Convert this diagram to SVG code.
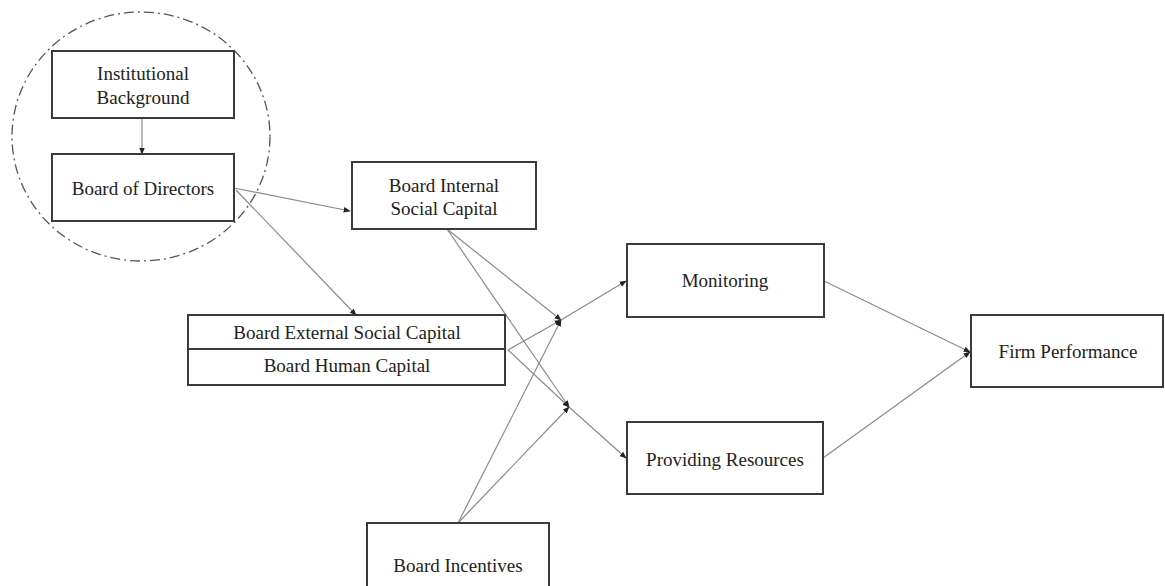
<svg xmlns="http://www.w3.org/2000/svg" width="1165" height="586" viewBox="0 0 1165 586">
<defs>
<style>
.box{fill:#fff;stroke:#3a3a3a;stroke-width:2}
.t{font-family:"Liberation Serif","Times New Roman",serif;font-size:19px;fill:#222;text-anchor:middle}
.c{fill:none;stroke:#8a8a8a;stroke-width:1.2;marker-end:url(#ah)}
</style>
<marker id="ah" viewBox="0 0 10 10" refX="9" refY="5" markerWidth="7" markerHeight="7" markerUnits="userSpaceOnUse" orient="auto">
<path d="M0,1 L10,5 L0,9 Z" fill="#222"/>
</marker>
</defs>
<rect width="1165" height="586" fill="#fff"/>
<ellipse cx="141" cy="136.5" rx="129" ry="124.5" fill="none" stroke="#555" stroke-width="1.3" stroke-dasharray="10 4 2 4"/>
<g id="connectors">
<line class="c" x1="142" y1="118" x2="142" y2="154"/>
<line class="c" x1="234" y1="188" x2="350" y2="211"/>
<line class="c" x1="236" y1="190" x2="356" y2="315"/>
<line class="c" x1="447" y1="229" x2="561" y2="320"/>
<line class="c" x1="508" y1="350" x2="561" y2="320"/>
<line class="c" x1="458" y1="523" x2="561" y2="320"/>
<line class="c" x1="561" y1="320" x2="626" y2="281"/>
<line class="c" x1="447" y1="229" x2="569" y2="407"/>
<line class="c" x1="508" y1="350" x2="569" y2="407"/>
<line class="c" x1="458" y1="523" x2="569" y2="407"/>
<line class="c" x1="569" y1="407" x2="626" y2="458"/>
<line class="c" x1="824" y1="281" x2="970" y2="352"/>
<line class="c" x1="823" y1="458" x2="970" y2="352"/>
</g>
<g id="institutional-background">
<rect class="box" x="52" y="51" width="182" height="67"/>
<text class="t" x="143" y="80">Institutional</text>
<text class="t" x="143" y="104">Background</text>
</g>
<g id="board-of-directors">
<rect class="box" x="52" y="154" width="182" height="67"/>
<text class="t" x="143" y="195">Board of Directors</text>
</g>
<g id="board-internal-social-capital">
<rect class="box" x="352" y="162" width="184" height="67"/>
<text class="t" x="444" y="192">Board Internal</text>
<text class="t" x="444" y="215">Social Capital</text>
</g>
<g id="board-external-human-capital">
<rect class="box" x="188" y="315" width="317" height="70"/>
<line x1="188" y1="349" x2="505" y2="349" stroke="#3a3a3a" stroke-width="2"/>
<text class="t" x="347" y="339">Board External Social Capital</text>
<text class="t" x="347" y="372">Board Human Capital</text>
</g>
<g id="monitoring">
<rect class="box" x="627" y="244" width="197" height="73"/>
<text class="t" x="725" y="287">Monitoring</text>
</g>
<g id="providing-resources">
<rect class="box" x="627" y="422" width="196" height="72"/>
<text class="t" x="725" y="466">Providing Resources</text>
</g>
<g id="firm-performance">
<rect class="box" x="971" y="315" width="192" height="72"/>
<text class="t" x="1068" y="358">Firm Performance</text>
</g>
<g id="board-incentives">
<rect class="box" x="367" y="523" width="182" height="80"/>
<text class="t" x="458" y="572">Board Incentives</text>
</g>
</svg>
